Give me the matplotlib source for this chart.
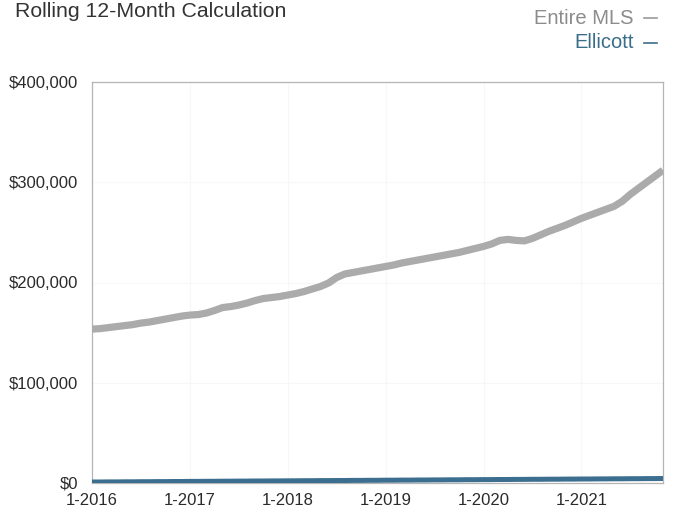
import matplotlib
matplotlib.use("Agg")
import matplotlib.pyplot as plt
from matplotlib.lines import Line2D
import numpy as np

# Months from 1-2016 through 11-2021 (index 0 = 1-2016)
year_labels = ["1-2016", "1-2017", "1-2018", "1-2019", "1-2020", "1-2021"]
year_ticks = [0, 12, 24, 36, 48, 60]

entire_mls = [153500, 154000, 155000, 156000, 157000, 158000, 159500, 160500, 162000, 163500,
              165000, 166500, 167500, 168000, 169500, 172000, 175000, 176000, 177500, 179500,
              182000, 184000, 185000, 186000, 187500, 189000, 191000, 193500, 196000, 199500,
              205000, 208500, 210000, 211500, 213000, 214500, 216000, 217500, 219500, 221000,
              222500, 224000, 225500, 227000, 228500, 230000, 232000, 234000, 236000, 238500,
              242000, 243000, 242000, 241500, 244000, 247500, 251000, 254000, 257000, 260500,
              264000, 267000, 270000, 273000, 276000, 281000, 288000, 294000, 300000, 306000,
              312000]

ellicott = [1000, 1000, 1100, 1100, 1200, 1200, 1300, 1300, 1400, 1400,
            1500, 1500, 1600, 1600, 1700, 1700, 1800, 1800, 1900, 1900,
            2000, 2000, 2100, 2100, 2200, 2200, 2300, 2300, 2400, 2400,
            2500, 2500, 2600, 2600, 2700, 2700, 2800, 2800, 2900, 2900,
            3000, 3000, 3100, 3100, 3200, 3200, 3300, 3300, 3400, 3400,
            3500, 3500, 3600, 3600, 3700, 3700, 3800, 3800, 3900, 3900,
            4000, 4000, 4100, 4100, 4200, 4200, 4300, 4300, 4400, 4400,
            4500]

y_ticks = [0, 100000, 200000, 300000, 400000]
y_labels = ["$0", "$100,000", "$200,000", "$300,000", "$400,000"]

W, H = 674, 509
fig = plt.figure(figsize=(W / 100, H / 100), dpi=100)
plt.rcParams['font.family'] = ['Liberation Sans', 'DejaVu Sans']

ax = fig.add_axes([92 / W, (H - 483) / H, 571 / W, 401 / H])
months = np.arange(len(entire_mls))

ax.plot(months, entire_mls, color="#ababab", lw=5.2, solid_capstyle="butt", zorder=3)
ax.plot(months, ellicott, color="#3c6e90", lw=3.6, solid_capstyle="butt", zorder=4)

ax.set_xlim(0, len(entire_mls) - 1)
ax.set_ylim(0, 400000)
ax.set_xticks(year_ticks)
ax.set_xticklabels(year_labels)
ax.set_yticks(y_ticks)
ax.set_yticklabels(y_labels)
ax.tick_params(axis="both", length=0, labelsize=12, colors="#2b2b2b")
ax.tick_params(axis="x", pad=7)
ax.tick_params(axis="y", pad=10)

ax.grid(True, color="#f7f7f7", lw=0.8, zorder=0)
for s in ax.spines.values():
    s.set_color("#b5b5b5")
    s.set_linewidth(0.9)

# Title (top-left)
fig.text(15 / W, 1 - 17 / H, "Rolling 12-Month Calculation", fontsize=15.3,
         color="#333333", ha="left", va="baseline")

# Legend-style labels at top right
fig.text(634 / W, 1 - 18 / H, "Entire MLS", fontsize=14.5, color="#8c8c8c",
         ha="right", va="center")
fig.text(634 / W, 1 - 43 / H, "Ellicott", fontsize=14.5, color="#3a6d8a",
         ha="right", va="center")
fig.add_artist(Line2D([644 / W, 657 / W], [1 - 18 / H, 1 - 18 / H],
                      color="#9a9a9a", lw=1.2, transform=fig.transFigure))
fig.add_artist(Line2D([644 / W, 657 / W], [1 - 43 / H, 1 - 43 / H],
                      color="#3a6d8a", lw=1.2, transform=fig.transFigure))

fig.savefig("out.png", dpi=100, facecolor="white")
